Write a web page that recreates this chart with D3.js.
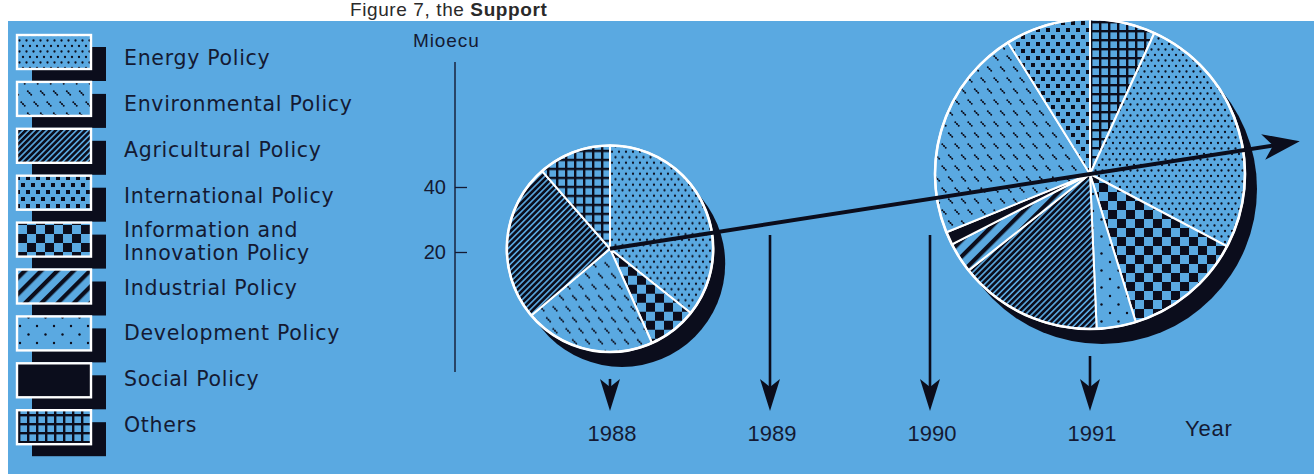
<!DOCTYPE html>
<html>
<head>
<meta charset="utf-8">
<script src="https://cdn.jsdelivr.net/npm/d3@7"></script>
<style>
  html, body { margin: 0; padding: 0; background: #ffffff; }
  svg { display: block; }
</style>
</head>
<body>
<script>
// ---------------- DATA ----------------
const categories = [
  "Energy Policy", "Environmental Policy", "Agricultural Policy", "International Policy",
  "Information and Innovation Policy", "Industrial Policy", "Development Policy",
  "Social Policy", "Others"
];
const legendLines = [
  ["Energy Policy"], ["Environmental Policy"], ["Agricultural Policy"], ["International Policy"],
  ["Information and", "Innovation Policy"], ["Industrial Policy"], ["Development Policy"],
  ["Social Policy"], ["Others"]
];
const years = [1988, 1989, 1990, 1991];
const yearLabels = ["1988", "1989", "1990", "1991"];
const yTicks = [20, 40];

// slice order (clockwise from 12 o'clock) and values, Mioecu
const order1988  = ["Energy Policy", "Information and Innovation Policy", "Environmental Policy", "Agricultural Policy", "Others"];
const values1988 = [7.5, 1.6, 4.3, 5.2, 2.4];

const order1991  = ["Others", "Energy Policy", "Information and Innovation Policy", "Development Policy",
                    "Agricultural Policy", "Industrial Policy", "Social Policy", "Environmental Policy", "International Policy"];
const values1991 = [3.0, 11.4, 5.5, 1.8, 6.6, 1.4, 0.6, 9.8, 3.9];

const pies = [
  { year: 1988, order: order1988, values: values1988 },
  { year: 1991, order: order1991, values: values1991 }
];

// ---------------- STYLE ----------------
const W = 1314, H = 474;
const BG = "#5aa9e1";
const INK = "#0b0d1c";
const TXT = "#141a33";

const svg = d3.select("body").append("svg").attr("width", W).attr("height", H);
const defs = svg.append("defs");

function pattern(id, w, h, draw, transform) {
  const p = defs.append("pattern").attr("id", id)
    .attr("patternUnits", "userSpaceOnUse").attr("width", w).attr("height", h);
  if (transform) p.attr("patternTransform", transform);
  p.append("rect").attr("width", w).attr("height", h).attr("fill", BG);
  draw(p, w, h);
}
const dot = (p, x, y, r) => p.append("circle").attr("cx", x).attr("cy", y).attr("r", r).attr("fill", INK);
const sq = (p, x, y, s) => p.append("rect").attr("x", x).attr("y", y).attr("width", s).attr("height", s).attr("fill", INK);

// 0 Energy: dense dots
pattern("p0", 7, 11, p => { dot(p, 2, 2, 1.15); dot(p, 5.5, 7.5, 1.15); });
// 1 Environmental: short dotted "\" dashes, staggered rows
pattern("p1", 13, 22, p => {
  [[3.5, 5], [10, 16]].forEach(([cx, cy]) => {
    [-1.7, 0, 1.7].forEach(o => dot(p, cx + o, cy + o, 1.0));
    p.append("line").attr("x1", cx - 1.7).attr("y1", cy - 1.7).attr("x2", cx + 1.7).attr("y2", cy + 1.7)
      .attr("stroke", INK).attr("stroke-width", 0.7);
  });
});
// 2 Agricultural: dense "/" stripes
pattern("p2", 4.2, 10, (p, w, h) => {
  p.append("rect").attr("x", 0).attr("y", 0).attr("width", 2.6).attr("height", h).attr("fill", INK);
}, "rotate(45)");
// 3 International: small squares, staggered
pattern("p3", 10, 14, p => { sq(p, 1, 1, 4); sq(p, 6, 8, 4); });
// 4 Information & Innovation: checkerboard
pattern("p4", 18, 18, p => { sq(p, 0, 0, 9); sq(p, 9, 9, 9); });
// 5 Industrial: thick "/" stripes
pattern("p5", 11.5, 10, (p, w, h) => {
  p.append("rect").attr("x", 0).attr("y", 0).attr("width", 4.2).attr("height", h).attr("fill", INK);
}, "rotate(45)");
// 6 Development: sparse dots
pattern("p6", 17, 17, p => { dot(p, 3, 3, 1.2); dot(p, 11.5, 11.5, 1.2); });
// 7 Social: solid
pattern("p7", 4, 4, (p, w, h) => { p.append("rect").attr("width", w).attr("height", h).attr("fill", INK); });
// 8 Others: grid
pattern("p8", 9, 9, (p, w, h) => {
  p.append("rect").attr("x", 0).attr("y", 0).attr("width", 2.4).attr("height", h).attr("fill", INK);
  p.append("rect").attr("x", 0).attr("y", 0).attr("width", w).attr("height", 2.4).attr("fill", INK);
});
const fillOf = name => `url(#p${categories.indexOf(name)})`;

// ---------------- TITLE ----------------
const title = svg.append("text").attr("x", 350).attr("y", 16)
  .attr("font-family", "Liberation Sans, Arial, sans-serif").attr("font-size", 19)
  .attr("letter-spacing", 0.6).attr("fill", "#2a2a2a");
title.append("tspan").text("Figure 7, the ");
title.append("tspan").attr("font-weight", "bold").text("Support");

// ---------------- PANEL ----------------
svg.append("rect").attr("x", 8).attr("y", 21).attr("width", W - 8).attr("height", H - 21).attr("fill", BG);

// ---------------- LEGEND ----------------
const legend = svg.append("g");
const swX = 17, swW = 74, swH = 34, swTop = 35, swStep = 46.9;
const shDx = 15, shDy = 12;
const lblX = 124, lblTop = 65, lblStep = 45.9;
categories.forEach((c, i) => {
  const yTop = swTop + i * swStep;
  legend.append("rect").attr("x", swX + shDx).attr("y", yTop + shDy).attr("width", swW).attr("height", swH).attr("fill", INK);
  legend.append("rect").attr("x", swX).attr("y", yTop).attr("width", swW).attr("height", swH)
    .attr("fill", fillOf(c)).attr("stroke", "#ffffff").attr("stroke-width", 2.4);
  const lines = legendLines[i];
  const base = lblTop + i * lblStep;
  lines.forEach((t, k) => {
    const off = lines.length === 1 ? 0 : (k === 0 ? -11.5 : 11.5);
    legend.append("text").attr("x", lblX).attr("y", base + off)
      .attr("font-family", "DejaVu Sans, sans-serif").attr("font-size", 20.5)
      .attr("letter-spacing", 0.7).attr("fill", TXT).text(t);
  });
});

// ---------------- SCALES ----------------
const y = d3.scaleLinear().domain([20, 40]).range([252, 187]);
const x = d3.scaleLinear().domain([1988, 1991]).range([610, 1090]);
const r = d3.scalePow().exponent(0.55).domain([0, 44]).range([0, 155]);

// ---------------- AXIS ----------------
const axX = 455;
const axis = svg.append("g").attr("transform", `translate(${axX},0)`)
  .call(d3.axisLeft(y).tickValues(yTicks).tickSizeInner(-12).tickSizeOuter(0).tickPadding(9));
axis.select(".domain").remove();
axis.selectAll(".tick line").attr("stroke", TXT).attr("stroke-width", 1.3);
axis.selectAll(".tick text").attr("fill", TXT).attr("font-family", "Liberation Sans, Arial, sans-serif").attr("font-size", 20);
svg.append("line").attr("x1", axX).attr("x2", axX).attr("y1", 62).attr("y2", 372)
  .attr("stroke", TXT).attr("stroke-width", 1.4);
svg.append("text").attr("x", 413).attr("y", 47).attr("font-family", "Liberation Sans, Arial, sans-serif")
  .attr("font-size", 19).attr("letter-spacing", 0.9).attr("fill", TXT).text("Mioecu");

// ---------------- PIES ----------------
const pieGen = d3.pie().sort(null).value(d => d.value);
const pieShadow = { dx: 12, dy: 15 };
const pieInfo = pies.map(pd => {
  const data = pd.order.map((name, k) => ({ name, value: pd.values[k] }));
  const total = d3.sum(pd.values);
  return { year: pd.year, data, total, cx: x(pd.year), cy: y(total), rad: r(total) };
});
const pieLayer = svg.append("g");
pieInfo.forEach(p => {
  const g = pieLayer.append("g").attr("transform", `translate(${p.cx},${p.cy})`);
  g.append("circle").attr("cx", pieShadow.dx).attr("cy", pieShadow.dy).attr("r", p.rad).attr("fill", INK);
  const arc = d3.arc().innerRadius(0).outerRadius(p.rad);
  g.selectAll("path.slice").data(pieGen(p.data)).join("path").attr("class", "slice")
    .attr("d", arc).attr("fill", d => fillOf(d.data.name))
    .attr("stroke", "#ffffff").attr("stroke-width", 2).attr("stroke-linejoin", "round");
  g.append("circle").attr("r", p.rad).attr("fill", "none").attr("stroke", "#ffffff").attr("stroke-width", 2.6);
});

// ---------------- TREND ARROW ----------------
const p0 = pieInfo[0], p1 = pieInfo[1];
const ext = 0.437;
const tip = [p1.cx + (p1.cx - p0.cx) * ext, p1.cy + (p1.cy - p0.cy) * ext];
const ang = Math.atan2(tip[1] - p0.cy, tip[0] - p0.cx);
const rot = (px, py) => [tip[0] + px * Math.cos(ang) - py * Math.sin(ang), tip[1] + px * Math.sin(ang) + py * Math.cos(ang)];
const notch = rot(-27, 0);
svg.append("line").attr("x1", p0.cx).attr("y1", p0.cy).attr("x2", notch[0]).attr("y2", notch[1])
  .attr("stroke", INK).attr("stroke-width", 4);
svg.append("path").attr("d", "M" + [rot(0, 0), rot(-37, -13), rot(-27, 0), rot(-37, 13)].map(q => q.join(",")).join("L") + "Z")
  .attr("fill", INK);

// ---------------- YEAR ARROWS & LABELS ----------------
const arrowBottom = 411, freeTop = 235;
years.forEach((yr, i) => {
  const p = pieInfo.find(d => d.year === yr);
  const top = p ? p.cy + p.rad + pieShadow.dy + 12 : freeTop;
  const ax = x(yr);
  svg.append("line").attr("x1", ax).attr("x2", ax).attr("y1", top).attr("y2", arrowBottom - 24)
    .attr("stroke", INK).attr("stroke-width", 2.6);
  svg.append("path")
    .attr("d", `M${ax},${arrowBottom} L${ax - 10},${arrowBottom - 32} L${ax},${arrowBottom - 24} L${ax + 10},${arrowBottom - 32} Z`)
    .attr("fill", INK);
  svg.append("text").attr("x", ax + 2).attr("y", 441).attr("text-anchor", "middle")
    .attr("font-family", "Liberation Sans, Arial, sans-serif").attr("font-size", 22).attr("fill", TXT)
    .text(yearLabels[i]);
});
svg.append("text").attr("x", 1185).attr("y", 436)
  .attr("font-family", "Liberation Sans, Arial, sans-serif").attr("font-size", 22)
  .attr("letter-spacing", 0.8).attr("fill", TXT).text("Year");
</script>
</body>
</html>
